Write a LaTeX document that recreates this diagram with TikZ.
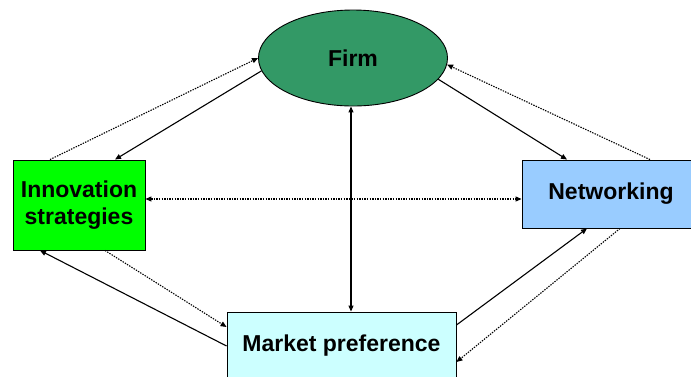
\documentclass[tikz,border=0pt]{standalone}
\usepackage{fontspec}
\setmainfont{Liberation Sans}
\usetikzlibrary{shapes.geometric,arrows.meta}
\definecolor{firmgreen}{HTML}{339966}
\definecolor{innogreen}{HTML}{00FF00}
\definecolor{netblue}{HTML}{99CCFF}
\definecolor{marketcyan}{HTML}{CCFFFF}

\begin{document}
\begin{tikzpicture}[x=1pt,y=-1pt,
    every node/.style={draw,line width=0.9pt,font=\fontsize{23}{27}\selectfont\bfseries,align=center,inner sep=0pt},
    link/.style={line width=1.1pt,-{Triangle[length=6pt,width=5pt]}},
    twolink/.style={link,{Triangle[length=6pt,width=5pt]}-{Triangle[length=6pt,width=5pt]}},
    dots/.style={dash pattern=on 1.4pt off 1.2pt}]
    \useasboundingbox (0,0) rectangle (691,376);
    \node[ellipse,fill=firmgreen,minimum width=189pt,minimum height=96pt] (firm) at (353,58) {Firm};
    \node[fill=innogreen,minimum width=132pt,minimum height=90pt] (innov) at (79,205) {Innovation\\strategies};
    \node[fill=netblue,minimum width=178pt,minimum height=68pt] (netw) at (611,194) {Networking};
    \node[fill=marketcyan,minimum width=229pt,minimum height=68pt] (market) at (341.5,346) {Market preference};
    \draw[link,dots] ([xshift=-29pt]innov.north) -- (firm.west);
    \draw[link] (firm.188) -- ([xshift=36pt]innov.north);
    \draw[link] (firm.-14) -- ([xshift=-44pt]netw.north);
    \draw[link,dots] ([xshift=39pt]netw.north) -- (firm.-4);
    \draw[twolink,dots] ([yshift=6pt]innov.east) -- ([yshift=6pt]innov.east -| netw.west);
    \draw[twolink] ([xshift=-2pt]firm.south) -- ([xshift=-2pt]firm.south |- market.north);
    \draw[link] (market.west) -- ([xshift=-39pt]innov.south);
    \draw[link,dots] ([xshift=26pt]innov.south) -- ([yshift=19pt]market.west);
    \draw[link] ([yshift=21pt]market.east) -- ([xshift=-24pt]netw.south);
    \draw[link,dots] ([xshift=9pt]netw.south) -- ([yshift=-16pt]market.east);
\end{tikzpicture}
\end{document}
